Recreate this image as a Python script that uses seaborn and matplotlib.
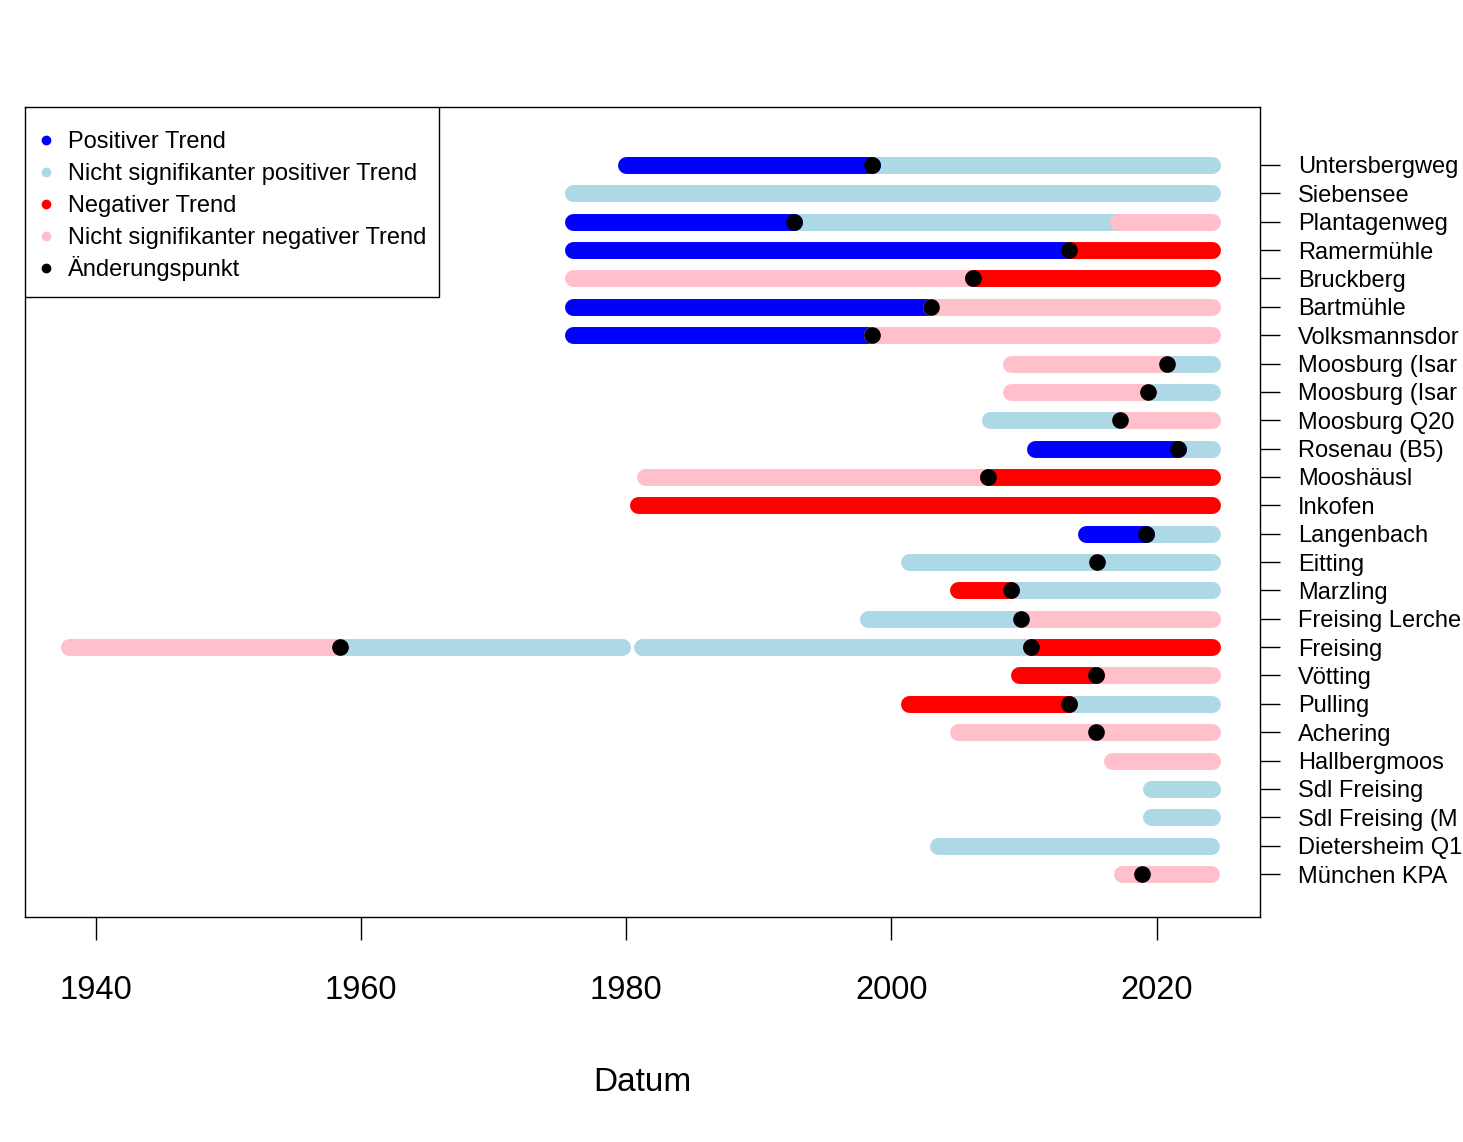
import pandas as pd
import matplotlib.pyplot as plt
from matplotlib.lines import Line2D
from matplotlib.patches import Rectangle
import seaborn as sns

# Stations, top to bottom
stations = ["Untersbergweg", "Siebensee", "Plantagenweg", "Ramermühle", "Bruckberg",
            "Bartmühle", "Volksmannsdor", "Moosburg (Isar", "Moosburg (Isar", "Moosburg Q20",
            "Rosenau (B5)", "Mooshäusl", "Inkofen", "Langenbach", "Eitting", "Marzling",
            "Freising Lerche", "Freising", "Vötting", "Pulling", "Achering", "Hallbergmoos",
            "Sdl Freising", "Sdl Freising (M", "Dietersheim Q1", "München KPA"]

# Trend segments (row index into stations, start year, end year, trend class)
seg_row = [0, 0, 1, 2, 2, 2, 3, 3, 4, 4, 5, 5, 6, 6, 7, 7, 8, 8, 9, 9, 10, 10, 11, 11, 12,
           13, 13, 14, 14, 15, 15, 16, 16, 17, 17, 17, 17, 18, 18, 19, 19, 20, 20, 21,
           22, 23, 24, 25, 25]
seg_start = [1980.0, 1998.5, 1976.0, 1976.0, 1992.65, 2017.1, 1976.0, 2013.4, 1976.0, 2006.15,
             1976.0, 2003.0, 1976.0, 1998.5, 2009.0, 2020.8, 2009.0, 2019.35, 2007.4, 2017.25,
             2010.8, 2021.6, 1981.4, 2007.3, 1980.9, 2014.65, 2019.2, 2001.3, 2015.5,
             2005.0, 2009.0, 1998.2, 2009.8, 1938.0, 1958.4, 1981.2, 2010.55, 2009.6, 2015.4,
             2001.3, 2013.4, 2005.0, 2015.4, 2016.6, 2019.6, 2019.6, 2003.5, 2017.4, 2018.9]
seg_end = [1998.5, 2024.2, 2024.2, 1992.65, 2017.1, 2024.2, 2013.4, 2024.2, 2006.15, 2024.2,
           2003.0, 2024.2, 1998.5, 2024.2, 2020.8, 2024.2, 2019.35, 2024.2, 2017.25, 2024.2,
           2021.6, 2024.2, 2007.3, 2024.2, 2024.2, 2019.2, 2024.2, 2015.5, 2024.2,
           2009.0, 2024.2, 2009.8, 2024.2, 1958.4, 1979.7, 2010.55, 2024.2, 2015.4, 2024.2,
           2013.4, 2024.2, 2015.4, 2024.2, 2024.2, 2024.2, 2024.2, 2024.1, 2018.9, 2024.1]
seg_trend = ["pos", "nspos", "nspos", "pos", "nspos", "nsneg", "pos", "neg", "nsneg", "neg",
             "pos", "nsneg", "pos", "nsneg", "nsneg", "nspos", "nsneg", "nspos", "nspos", "nsneg",
             "pos", "nspos", "nsneg", "neg", "neg", "pos", "nspos", "nspos", "nspos",
             "neg", "nspos", "nspos", "nsneg", "nsneg", "nspos", "nspos", "neg", "neg", "nsneg",
             "neg", "nspos", "nsneg", "nsneg", "nsneg", "nspos", "nspos", "nspos", "nsneg", "nsneg"]

# Change points
cp_row = [0, 2, 3, 4, 5, 6, 7, 8, 9, 10, 11, 13, 14, 15, 16, 17, 17, 18, 19, 20, 25]
cp_year = [1998.5, 1992.65, 2013.4, 2006.15, 2003.0, 1998.5, 2020.8, 2019.35, 2017.25, 2021.6,
           2007.3, 2019.2, 2015.5, 2009.0, 2009.8, 1958.4, 2010.55, 2015.4, 2013.4, 2015.4, 2018.9]

trend_colors = {"nspos": "#ADD8E6", "pos": "#0000FF", "nsneg": "#FFC0CB", "neg": "#FF0000"}
legend_labels = ["Positiver Trend", "Nicht signifikanter positiver Trend", "Negativer Trend",
                 "Nicht signifikanter negativer Trend", "Änderungspunkt"]
legend_colors = ["#0000FF", "#ADD8E6", "#FF0000", "#FFC0CB", "#000000"]

n = len(stations)
rows = []
for i, (r, s, e, t) in enumerate(zip(seg_row, seg_start, seg_end, seg_trend)):
    rows.append({"seg": i, "year": s, "y": n - r, "trend": t})
    rows.append({"seg": i, "year": e, "y": n - r, "trend": t})
segs = pd.DataFrame(rows)
cps = pd.DataFrame({"year": cp_year, "y": [n - r for r in cp_row]})

sns.set_theme(style="white")
plt.rcParams["font.family"] = ["Liberation Sans", "DejaVu Sans"]

W, H = 1463, 1142
fig = plt.figure(figsize=(W / 100, H / 100), dpi=100)
ax = fig.add_axes([25 / W, 1 - 917 / H, 1235 / W, 810 / H])

sns.lineplot(data=segs, x="year", y="y", hue="trend", units="seg", estimator=None, sort=False,
             hue_order=["nspos", "pos", "nsneg", "neg"], palette=trend_colors,
             linewidth=12.2, solid_capstyle="round", legend=False, ax=ax)
sns.scatterplot(data=cps, x="year", y="y", color="black", s=12 ** 2, linewidth=0,
                zorder=5, ax=ax)

ax.set_xlim(1934.65, 2027.8)
ax.set_ylim(-0.516, 28.045)
ax.set_xticks([1940, 1960, 1980, 2000, 2020])
ax.set_yticks(range(n, 0, -1))
ax.set_yticklabels(stations)
ax.yaxis.tick_right()
ax.tick_params(axis="y", right=True, length=14.4, width=1, pad=13, labelsize=17, colors="black")
ax.tick_params(axis="x", bottom=True, length=16.5, width=1, pad=25, labelsize=23.5, colors="black")
ax.set_xlabel("Datum", fontsize=24, labelpad=44, color="black")
ax.set_ylabel("")
for sp in ax.spines.values():
    sp.set_visible(True)
    sp.set_color("black")
    sp.set_linewidth(1)

# legend box, drawn by hand like the R legend
box = Rectangle((25 / W, 1 - 297 / H), 414 / W, 190 / H, transform=fig.transFigure,
                facecolor="white", edgecolor="black", linewidth=1, zorder=6)
ax.add_patch(box)
for i, (lab, col) in enumerate(zip(legend_labels, legend_colors)):
    yc = 140 + 32 * i
    fig.add_artist(Line2D([46 / W], [1 - yc / H], transform=fig.transFigure, marker="o",
                          linestyle="", color=col, markersize=6, zorder=7))
    fig.text(68 / W, 1 - (yc + 8) / H, lab, fontsize=17, color="black", va="baseline",
             ha="left", zorder=7)

fig.savefig("out.png", dpi=100)
